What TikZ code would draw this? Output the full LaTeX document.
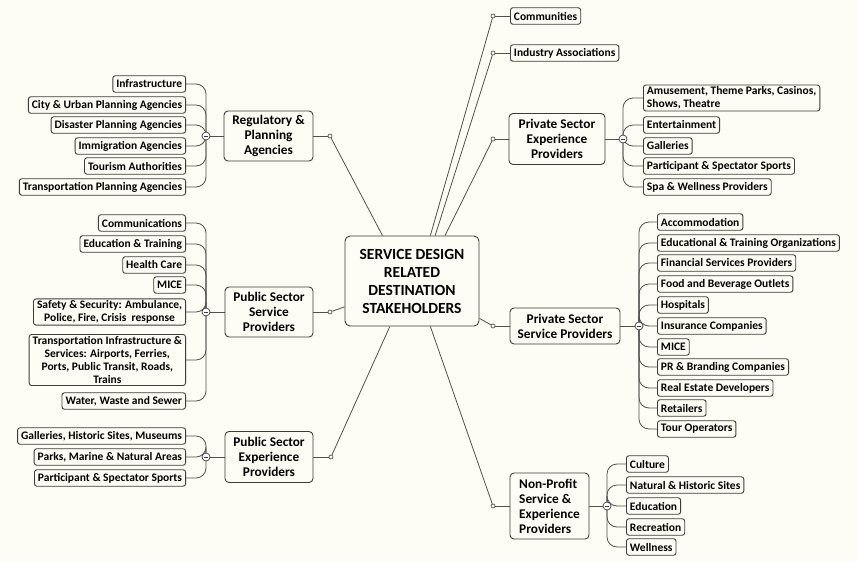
\documentclass[tikz,border=0pt]{standalone}
\usepackage{fontspec}
\setmainfont{Carlito}
\definecolor{bgcol}{RGB}{253,253,245}
\definecolor{edgecol}{RGB}{60,60,60}
\definecolor{linecol}{RGB}{80,80,80}
\pgfdeclarelayer{paper}
\pgfdeclarelayer{background}
\pgfsetlayers{paper,background,main}
\tikzset{
  leaf/.style={draw=edgecol, line width=0.9pt, fill=bgcol, rounded corners=2.5pt,
    font=\fontsize{11.5}{13.3}\selectfont\bfseries, inner xsep=3.5pt, inner ysep=1.5pt,
    minimum height=16.5pt, align=center},
  midbox/.style={draw=edgecol, line width=0.9pt, fill=bgcol, rounded corners=4pt,
    font=\fontsize{13.3}{15}\selectfont\bfseries, inner sep=2pt, align=center},
  rootbox/.style={draw=edgecol, line width=0.9pt, fill=bgcol, rounded corners=5pt,
    font=\fontsize{15.5}{18}\selectfont\bfseries, align=center,
    minimum width=134pt, minimum height=90pt},
  hub/.style={circle, draw=edgecol, line width=0.7pt, fill=white, minimum size=8pt, inner sep=0pt,
    path picture={\draw[line width=0.7pt] ([xshift=-2pt]path picture bounding box.center) -- ([xshift=2pt]path picture bounding box.center);}},
  knob/.style={circle, draw=edgecol, line width=0.6pt, fill=bgcol, minimum size=4pt, inner sep=0pt},
  conn/.style={draw=linecol, line width=0.8pt},
  branch/.style={conn, rounded corners=10pt}
}
\begin{document}
\begin{tikzpicture}[x=1pt,y=-1pt]
\begin{pgfonlayer}{paper}
\fill[bgcol] (0,0) rectangle (858,562);
\end{pgfonlayer}
\useasboundingbox (0,0) rectangle (858,562);

% root
\node[rootbox] (root) at (412,281) {SERVICE DESIGN\\RELATED\\DESTINATION\\STAKEHOLDERS};

% ---------- left: Regulatory & Planning
\node[midbox, minimum width=89pt, minimum height=50pt] (reg) at (268.5,136) {Regulatory \&\\Planning\\Agencies};
\node[knob] (kreg) at (330,136) {};
\node[hub] (hreg) at (206,136) {};
\node[leaf, anchor=east] (r1) at (186,84) {Infrastructure};
\node[leaf, anchor=east] (r2) at (186,105) {City \& Urban Planning Agencies};
\node[leaf, anchor=east] (r3) at (186,125) {Disaster Planning Agencies};
\node[leaf, anchor=east] (r4) at (186,146) {Immigration Agencies};
\node[leaf, anchor=east] (r5) at (186,166) {Tourism Authorities};
\node[leaf, anchor=east] (r6) at (186,187) {Transportation Planning Agencies};

% ---------- left: Public Sector Service Providers
\node[midbox, minimum width=88pt, minimum height=50pt] (pss) at (269,312) {Public Sector\\Service\\Providers};
\node[knob] (kpss) at (330,312) {};
\node[hub] (hpss) at (206,312) {};
\node[leaf, anchor=east] (s1) at (186,223) {Communications};
\node[leaf, anchor=east] (s2) at (186,244) {Education \& Training};
\node[leaf, anchor=east] (s3) at (186,265) {Health Care};
\node[leaf, anchor=east] (s4) at (186,285) {MICE};
\node[leaf, anchor=east] (s5) at (186,312) {Safety \& Security: Ambulance,\\Police, Fire, Crisis\ \ response};
\node[leaf, anchor=east] (s6) at (186,360) {Transportation Infrastructure \&\\Services: Airports, Ferries,\\Ports, Public Transit, Roads,\\Trains};
\node[leaf, anchor=east] (s7) at (186,401) {Water, Waste and Sewer};

% ---------- left: Public Sector Experience Providers
\node[midbox, minimum width=88pt, minimum height=51pt] (pse) at (269,457) {Public Sector\\Experience\\Providers};
\node[knob] (kpse) at (331,457) {};
\node[hub] (hpse) at (206,457) {};
\node[leaf, anchor=east] (e1) at (186,436) {Galleries, Historic Sites, Museums};
\node[leaf, anchor=east] (e2) at (186,457) {Parks, Marine \& Natural Areas};
\node[leaf, anchor=east] (e3) at (186,478) {Participant \& Spectator Sports};

% ---------- right: top single boxes
\node[leaf, anchor=west] (comm) at (510,16) {Communities};
\node[knob] (kcomm) at (493,16) {};
\node[leaf, anchor=west] (ind) at (510,53) {Industry Associations};
\node[knob] (kind) at (493,53) {};

% ---------- right: Private Sector Experience Providers
\node[midbox, minimum width=96pt, minimum height=51pt] (pxp) at (557,139) {Private Sector\\Experience\\Providers};
\node[knob] (kpxp) at (493,139) {};
\node[hub] (hpxp) at (623,139) {};
\node[leaf, anchor=west, align=left] (x1) at (643,98) {Amusement, Theme Parks, Casinos,\\Shows, Theatre};
\node[leaf, anchor=west] (x2) at (643,125) {Entertainment};
\node[leaf, anchor=west] (x3) at (643,146) {Galleries};
\node[leaf, anchor=west] (x4) at (643,166) {Participant \& Spectator Sports};
\node[leaf, anchor=west] (x5) at (643,187) {Spa \& Wellness Providers};

% ---------- right: Private Sector Service Providers
\node[midbox, minimum width=110pt, minimum height=36pt] (psp) at (565,326) {Private Sector\\Service Providers};
\node[knob] (kpsp) at (493,326) {};
\node[hub] (hpsp) at (639,326) {};
\node[leaf, anchor=west] (p1) at (657,222) {Accommodation};
\node[leaf, anchor=west] (p2) at (657,243) {Educational \& Training Organizations};
\node[leaf, anchor=west] (p3) at (657,263) {Financial Services Providers};
\node[leaf, anchor=west] (p4) at (657,284) {Food and Beverage Outlets};
\node[leaf, anchor=west] (p5) at (657,305) {Hospitals};
\node[leaf, anchor=west] (p6) at (657,326) {Insurance Companies};
\node[leaf, anchor=west] (p7) at (657,347) {MICE};
\node[leaf, anchor=west] (p8) at (657,367) {PR \& Branding Companies};
\node[leaf, anchor=west] (p9) at (657,388) {Real Estate Developers};
\node[leaf, anchor=west] (p10) at (657,408) {Retailers};
\node[leaf, anchor=west] (p11) at (657,429) {Tour Operators};

% ---------- right: Non-Profit
\node[midbox, minimum width=79pt, minimum height=66pt, align=left] (np) at (549.5,506) {Non-Profit\\Service \&\\Experience\\Providers};
\node[knob] (knp) at (493,506) {};
\node[hub] (hnp) at (607,506) {};
\node[leaf, anchor=west] (n1) at (626,464) {Culture};
\node[leaf, anchor=west] (n2) at (626,485) {Natural \& Historic Sites};
\node[leaf, anchor=west] (n3) at (626,506) {Education};
\node[leaf, anchor=west] (n4) at (626,527) {Recreation};
\node[leaf, anchor=west] (n5) at (626,547) {Wellness};

\begin{pgfonlayer}{background}
% root to knobs
\draw[conn] (kreg) -- (root.123);
\draw[conn] (kpss) -- (root.201);
\draw[conn] (kpse) -- (root.244);
\draw[conn] (kcomm) -- (root.68);
\draw[conn] (kind) -- (root.63);
\draw[conn] (kpxp) -- (root.54);
\draw[conn] (kpsp) -- (root.331);
\draw[conn] (knp) -- (root.292);
% knobs to mid boxes
\draw[conn] (kreg) -- (reg);
\draw[conn] (kpss) -- (pss);
\draw[conn] (kpse) -- (pse);
\draw[conn] (kcomm) -- (comm);
\draw[conn] (kind) -- (ind);
\draw[conn] (kpxp) -- (pxp);
\draw[conn] (kpsp) -- (psp);
\draw[conn] (knp) -- (np);
% mid boxes to hubs
\draw[conn] (reg) -- (hreg);
\draw[conn] (pss) -- (hpss);
\draw[conn] (pse) -- (hpse);
\draw[conn] (pxp) -- (hpxp);
\draw[conn] (psp) -- (hpsp);
\draw[conn] (np) -- (hnp);
% leaves
\foreach \l in {r1,r2,r3,r4,r5,r6} \draw[branch] (\l.east) -| (hreg.center);
\foreach \l in {s1,s2,s3,s4,s5,s6,s7} \draw[branch] (\l.east) -| (hpss.center);
\foreach \l in {e1,e2,e3} \draw[branch] (\l.east) -| (hpse.center);
\foreach \l in {x1,x2,x3,x4,x5} \draw[branch] (\l.west) -| (hpxp.center);
\foreach \l in {p1,p2,p3,p4,p5,p6,p7,p8,p9,p10,p11} \draw[branch] (\l.west) -| (hpsp.center);
\foreach \l in {n1,n2,n3,n4,n5} \draw[branch] (\l.west) -| (hnp.center);
\end{pgfonlayer}
\end{tikzpicture}
\end{document}
